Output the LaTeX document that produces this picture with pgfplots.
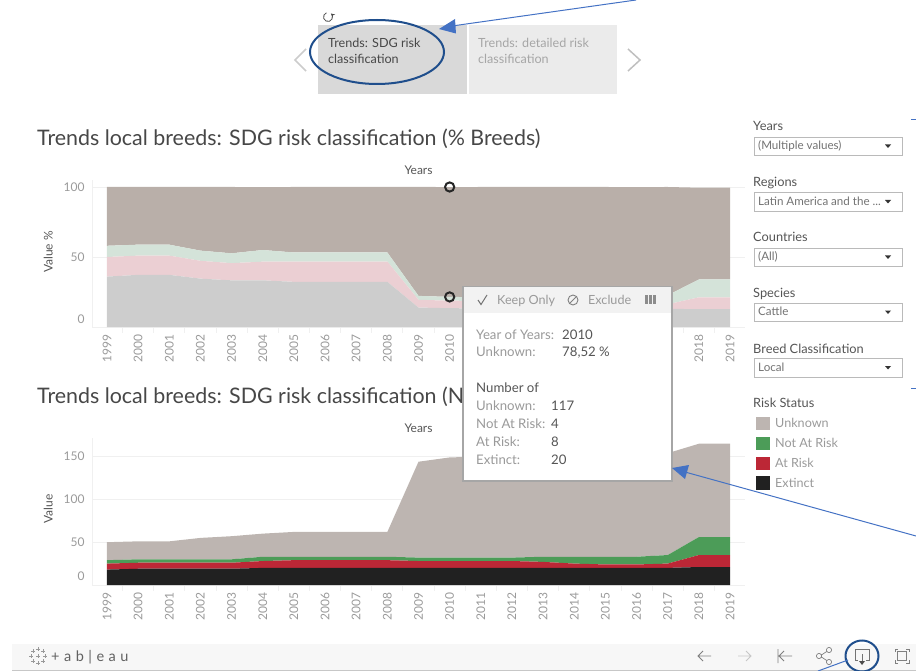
\documentclass[border=0pt]{standalone}
\usepackage{fontspec}
\setmainfont{Lato}
\usepackage{pgfplots}
\usepackage{pgfplotstable}
\pgfplotsset{compat=1.18}

\definecolor{unk}{HTML}{BDB5B1}
\definecolor{nar}{HTML}{4C9C58}
\definecolor{atr}{HTML}{BC2736}
\definecolor{ext}{HTML}{212121}
\definecolor{unkl}{HTML}{B9AFA9}
\definecolor{narl}{HTML}{D4E3D9}
\definecolor{atrl}{HTML}{EBCFD3}
\definecolor{extl}{HTML}{CDCDCD}
\definecolor{gridc}{HTML}{F0F0F0}
\definecolor{tickc}{HTML}{9A9A9A}
\definecolor{darkt}{HTML}{555555}
\definecolor{annot}{HTML}{4472C4}
\definecolor{ringc}{HTML}{1F4E8C}

% share of breeds, %
\pgfplotstableread{
year ext atr nar unk
1999 36.00 14.00 8.00 42.00
2000 37.25 13.73 7.84 41.18
2001 37.25 13.73 7.84 41.18
2002 34.55 12.73 7.27 45.45
2003 33.33 12.28 7.02 47.37
2004 33.33 13.33 8.33 45.00
2005 32.26 14.52 6.45 46.77
2006 32.26 14.52 6.45 46.77
2007 32.26 14.52 6.45 46.77
2008 32.26 14.52 6.45 46.77
2009 13.89 5.56 2.78 77.78
2010 13.42 5.37 2.68 78.52
2011 13.33 5.33 2.67 78.67
2012 13.33 5.33 2.67 78.67
2013 13.33 4.67 4.00 78.00
2014 13.25 3.31 5.30 78.15
2015 13.16 2.63 5.92 78.29
2016 13.07 2.61 5.88 78.43
2017 12.99 3.25 6.49 77.27
2018 12.73 8.48 12.73 65.56
2019 12.73 8.48 12.73 65.56
}\pcttable

% number of breeds
\pgfplotstableread{
year ext atr nar unk
1999 18 7 4 21
2000 19 7 4 21
2001 19 7 4 21
2002 19 7 4 25
2003 19 7 4 27
2004 20 8 5 27
2005 20 9 4 29
2006 20 9 4 29
2007 20 9 4 29
2008 20 9 4 29
2009 20 8 4 112
2010 20 8 4 117
2011 20 8 4 118
2012 20 8 4 118
2013 20 7 6 117
2014 20 5 8 118
2015 20 4 9 119
2016 20 4 9 120
2017 20 5 10 119
2018 21 14 21 109
2019 21 14 21 109
}\numtable

\pgfplotsset{
  trend/.style={
    scale only axis, width=653pt, height=147pt, anchor=south west,
    xmin=1998.52, xmax=2019.48, ymin=0,
    axis x line=bottom, axis y line=left,
    axis line style={-,draw=gridc,line width=0.8pt},
    xtick={1999,...,2019},
    minor xtick={1998.5,1999.5,...,2019.5},
    xtick align=outside, major tick length=0pt, minor tick length=6pt,
    tick style={draw=gridc,line width=0.8pt},
    ymajorgrids, grid style={draw=gridc,line width=0.8pt},
    /pgf/number format/assume math mode=true,
    /pgf/number format/set thousands separator={},
    tick label style={font=\fontsize{12}{13}\selectfont,text=tickc},
    xticklabel style={rotate=90,anchor=east},
    xticklabel shift=4pt,
    yticklabel shift=4pt,
    xlabel=Years,
    xlabel style={at={(axis description cs:0.5,1)},anchor=south,yshift=1.5pt,font=\fontsize{12}{13}\selectfont,text=darkt},
    ylabel style={anchor=center,rotate=0,font=\fontsize{12}{13}\selectfont,text=darkt},
    stack plots=y,
  },
}

\tikzset{
  t/.style={anchor=base west,inner sep=0pt,font=\fontsize{12.6}{14}\selectfont,text=darkt},
  lab/.style={t,text=tickc},
  tip/.style={t,font=\fontsize{13.2}{15}\selectfont},
  tiplab/.style={tip,text=tickc},
  box/.style={draw=black!27,fill=white,line width=0.9pt},
}
\newcommand{\caret}[2]{\fill[black!80] (#1-3,#2-1.5) -- (#1+3,#2-1.5) -- (#1,#2+2) -- cycle;}
\newcommand{\filter}[4]{% label, box top, label baseline, content
  \node[t,font=\fontsize{12.8}{14}\selectfont] at (753,#3) {#1};
  \draw[box] (754,#2) rectangle (902,#2+18.5);
  \node[t,font=\fontsize{11.6}{13}\selectfont,text=black!55] at (758,#2+13) {#4};
  \caret{888}{#2+9}
}

\begin{document}
\begin{tikzpicture}
\path[use as bounding box] (0,0) rectangle (916pt,-671pt);

\begin{axis}[trend, at={(92pt,-327pt)}, ymax=105, ytick={0,50,100},
  yticklabels={\raisebox{16pt}{0},50,100},
  ylabel={Value \%},
  ylabel style={at={(axis description cs:-0.067,0.51)}}]
  \addplot[fill=extl,draw=none] table[x=year,y=ext]{\pcttable} \closedcycle;
  \addplot[fill=atrl,draw=none] table[x=year,y=atr]{\pcttable} \closedcycle;
  \addplot[fill=narl,draw=none] table[x=year,y=nar]{\pcttable} \closedcycle;
  \addplot[fill=unkl,draw=none] table[x=year,y=unk]{\pcttable} \closedcycle;
\end{axis}
% hover rings of the highlighted year
\begin{axis}[scale only axis, width=653pt, height=147pt, anchor=south west, at={(92pt,-327pt)},
  xmin=1998.52, xmax=2019.48, ymin=0, ymax=105, hide axis, clip=false]
  \addplot[only marks,mark=o,mark size=4.6pt,line width=2pt,draw=black!85]
    coordinates {(2010,100) (2010,21.48)};
\end{axis}

\begin{axis}[trend, at={(92pt,-585pt)}, ymax=171.7, ytick={0,50,100,150},
  yticklabels={\raisebox{18pt}{0},50,100,150},
  ylabel={Value},
  ylabel style={at={(axis description cs:-0.067,0.517)}}]
  \addplot[fill=ext,draw=none] table[x=year,y=ext]{\numtable} \closedcycle;
  \addplot[fill=atr,draw=none] table[x=year,y=atr]{\numtable} \closedcycle;
  \addplot[fill=nar,draw=none] table[x=year,y=nar]{\numtable} \closedcycle;
  \addplot[fill=unk,draw=none] table[x=year,y=unk]{\numtable} \closedcycle;
\end{axis}

\begin{scope}[x=1pt,y=-1pt]
  % titles
  \node[t,font=\fontsize{21.4}{24}\selectfont,text=black!72] at (37,145.5) {Trends local breeds: SDG risk classification (\% Breeds)};
  \node[t,font=\fontsize{21.4}{24}\selectfont,text=black!72] at (37,403) {Trends local breeds: SDG risk classification (Nu};

  % story points navigator
  \fill[black!15] (318,25) rectangle (467,94);
  \fill[black!8] (468.5,25) rectangle (617,94);
  \node[t,text=black!72] at (328,48) {Trends: SDG risk};
  \node[t,text=black!72] at (328,64) {classification};
  \node[t,text=black!35] at (478,48) {Trends: detailed risk};
  \node[t,text=black!35] at (478,64) {classification};
  \draw[black!20,line width=1.5pt] (306,49) -- (295,60) -- (306,71);
  \draw[black!25,line width=1.5pt] (628,49) -- (640,60) -- (628,71);
  \draw[black!70,line width=0.8pt,->,>=stealth] (326.46,12.77) arc[start angle=-110,end angle=-410,radius=4.5];
  \draw[ringc,line width=2pt] (377,52) ellipse[x radius=67,y radius=32];
  \draw[annot,line width=1pt] (636,0) -- (452,26);
  \fill[annot] (439,29) -- (455,19) -- (456,33.5) -- cycle;

  % filters
  \filter{Years}{137}{131}{(Multiple values)}
  \filter{Regions}{192.5}{187}{Latin America and the ...}
  \filter{Countries}{248}{242}{(All)}
  \filter{Species}{303}{297.5}{Cattle}
  \filter{Breed Classification}{358.5}{353}{Local}

  % legend
  \node[t,font=\fontsize{12.8}{14}\selectfont] at (753,407.5) {Risk Status};
  \fill[unk] (756,417) rectangle (770,430);
  \fill[nar] (756,437) rectangle (770,450);
  \fill[atr] (756,456.5) rectangle (770,470);
  \fill[ext] (756,476) rectangle (770,490);
  \node[lab] at (775,427.5) {Unknown};
  \node[lab] at (775,447) {Not At Risk};
  \node[lab] at (775,467) {At Risk};
  \node[lab] at (775,487) {Extinct};

  % tooltip
  \fill[black!35] (462,286) rectangle (672.5,481.5);
  \fill[white] (463.5,287) rectangle (671,480);
  \fill[black!5] (463.5,287) rectangle (671,313);
  \draw[black!55,line width=1pt] (478,300) -- (481,304.5) -- (487,295);
  \node[lab] at (497,304.5) {Keep Only};
  \draw[black!50,line width=0.9pt] (573,300) circle[radius=5];
  \draw[black!50,line width=0.9pt] (569.5,303.5) -- (576.5,296.5);
  \node[lab] at (588,304.5) {Exclude};
  \foreach \bx in {645,649,653} \fill[black!45] (\bx,295) rectangle (\bx+2.8,303.5);
  \node[tiplab] at (476,339) {Year of Years:};
  \node[tip] at (562,339) {2010};
  \node[tiplab] at (476,356.5) {Unknown:};
  \node[tip] at (562,356.5) {78,52 \%};
  \node[tip] at (476,392.5) {Number of};
  \node[tiplab] at (476,410.5) {Unknown:};
  \node[tip] at (551,410.5) {117};
  \node[tiplab] at (476,428) {Not At Risk:};
  \node[tip] at (551,428) {4};
  \node[tiplab] at (476,446) {At Risk:};
  \node[tip] at (551,446) {8};
  \node[tiplab] at (476,464) {Extinct:};
  \node[tip] at (551,464) {20};

  % second callout
  \draw[annot,line width=1pt] (685,472) -- (916,536);
  \fill[annot] (672,468) -- (689,465) -- (685,479) -- cycle;
  \draw[annot,line width=1pt] (911,120) -- (916,120);
  \draw[annot,line width=1pt] (911,388) -- (916,388);

  % toolbar
  \fill[black!3] (12,644) rectangle (916,670);
  \draw[black!22,line width=0.8pt] (12,670.5) -- (916,670.5);
  \foreach \lx/\ly in {38/649,38/663,31/656,45/656,33/651,43/651,33/661,43/661,38/656}
    \draw[black!40,line width=0.6pt] (\lx-2,\ly) -- (\lx+2,\ly) (\lx,\ly-2) -- (\lx,\ly+2);
  \node[t,font=\fontsize{14.5}{16}\selectfont,text=black!62] at (51,661.5) {+\hspace{4.5pt}a\hspace{4.5pt}b\hspace{4.5pt}|\hspace{4.5pt}e\hspace{4.5pt}a\hspace{4.5pt}u};
  \draw[black!50,line width=0.8pt] (711,656) -- (698,656) (703,651) -- (698,656) -- (703,661);
  \draw[black!22,line width=0.8pt] (738,656) -- (751,656) (746,651) -- (751,656) -- (746,661);
  \draw[black!50,line width=0.8pt] (778,649) -- (778,663) (792,656) -- (779,656) (784,651) -- (779,656) -- (784,661);
  \draw[black!50,line width=0.7pt] (829,650) circle[radius=2.6] (819,656) circle[radius=2.6] (829,662) circle[radius=2.6] (821.4,655) -- (826.8,651.4) (821.4,657) -- (826.8,660.6);
  \draw[black!55,line width=0.8pt] (858,660) -- (855,660) -- (855,649) -- (869,649) -- (869,660) -- (866,660) (862,654) -- (862,664);
  \fill[black!70] (859,661) -- (865,661) -- (862,665) -- cycle;
  \draw[ringc,line width=2pt] (862,656) ellipse[x radius=16.5,y radius=15.5];
  \draw[annot,line width=1pt] (818,671) -- (848,660);
  \draw[black!50,line width=0.8pt] (895,652) -- (895,649) -- (898,649) (906,649) -- (909,649) -- (909,652) (909,660) -- (909,663) -- (906,663) (898,663) -- (895,663) -- (895,660);
  \draw[black!50,line width=0.8pt] (897.5,651.5) rectangle (906.5,660.5);
\end{scope}
\end{tikzpicture}
\end{document}
